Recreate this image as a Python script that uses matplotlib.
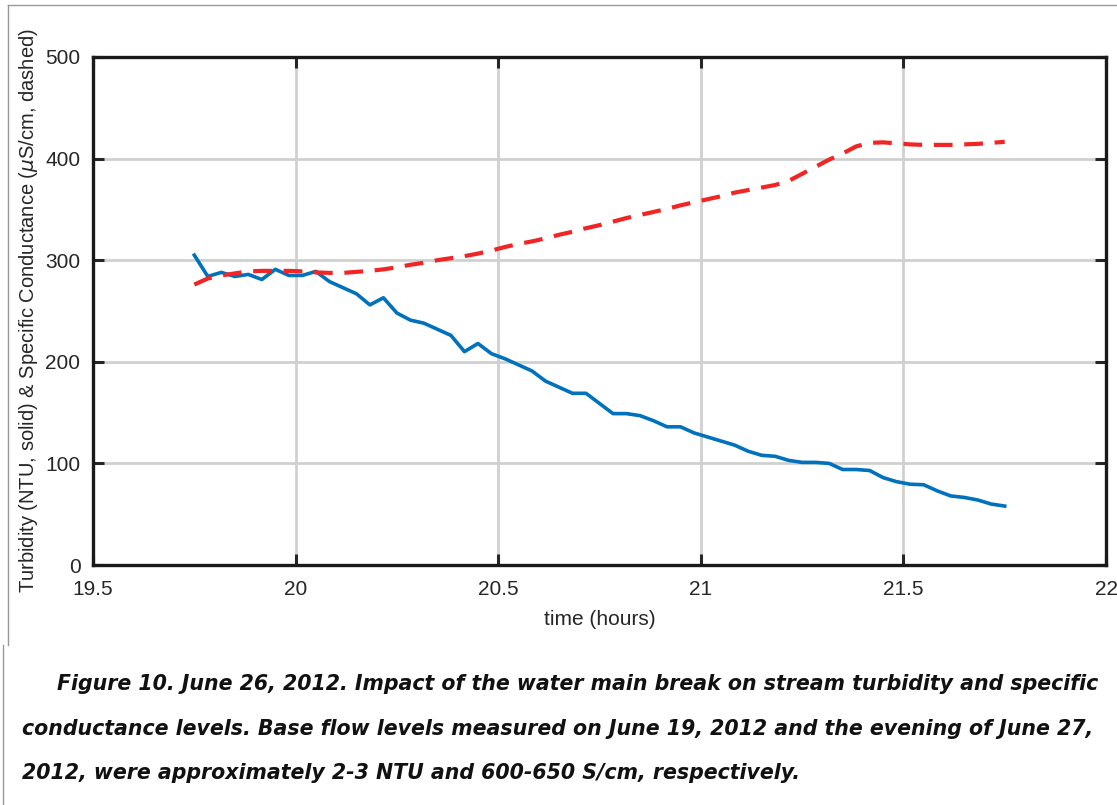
import numpy as np
import matplotlib
matplotlib.use("Agg")
import matplotlib.pyplot as plt
from matplotlib.lines import Line2D

# samples every 2 minutes from 19.75 h to 21.75 h
time_h = 19.75 + np.arange(0, 121, 2) / 60.0

turbidity = [305, 284, 288, 284, 286, 281, 291, 285, 285, 289,
             279, 273, 267, 256, 263, 248, 241, 238, 232, 226,
             210, 218, 208, 203, 197, 191, 181, 175, 169, 169,
             159, 149, 149, 147, 142, 136, 136, 130, 126, 122,
             118, 112, 108, 107, 103, 101, 101, 100, 94, 94,
             93, 86, 82, 79.5, 79, 73, 68, 66.5, 64, 60, 58]

conductance = [276, 282, 285, 287, 289, 289.5, 289.5, 289.5, 289, 288,
               287.5, 287.5, 288.5, 289.5, 291, 293, 295.5, 297.5, 300, 302,
               304, 306.5, 309.5, 313, 316, 318.5, 321.5, 325, 328, 331.5,
               334.5, 338, 341.5, 344.5, 347.5, 350.5, 354, 357, 360, 363,
               366.5, 369, 371.5, 374, 378, 385, 392, 399, 405, 412,
               415.5, 416, 415, 414, 413.5, 413.5, 413.5, 414, 414.5, 415.5, 416.5]

xticks = [19.5, 20, 20.5, 21, 21.5, 22]
xticklabels = ["19.5", "20", "20.5", "21", "21.5", "22"]
yticks = [0, 100, 200, 300, 400, 500]

caption = [
    "Figure 10. June 26, 2012. Impact of the water main break on stream turbidity and specific",
    "conductance levels. Base flow levels measured on June 19, 2012 and the evening of June 27,",
    "2012, were approximately 2-3 NTU and 600-650 S/cm, respectively.",
]

plt.rcParams["font.family"] = ["Liberation Sans", "DejaVu Sans"]

fig = plt.figure(figsize=(11.17, 8.05), dpi=100)
ax = fig.add_axes([93 / 1117, 1 - 565 / 805, (1106 - 93) / 1117, (565 - 57) / 805])

ax.plot(time_h, turbidity, color="#0072BD", linewidth=2.6, zorder=3)
ax.plot(time_h, conductance, color="#F22424", linewidth=3.0, dashes=(4.5, 2.8), zorder=3)

ax.set_xlim(19.5, 22)
ax.set_ylim(0, 500)
ax.set_xticks(xticks)
ax.set_xticklabels(xticklabels)
ax.set_yticks(yticks)
ax.grid(True, color="#d0d0d0", linewidth=2.0)
ax.set_axisbelow(True)
ax.tick_params(direction="in", length=8, width=2.2, labelsize=15,
               top=True, right=True, colors="#262626")
ax.tick_params(axis="x", pad=11)
ax.tick_params(axis="y", pad=9)
for s in ax.spines.values():
    s.set_linewidth(2.4)
    s.set_color("#1a1a1a")

ax.set_xlabel("time (hours)", fontsize=15, color="#262626", labelpad=8)
ax.set_ylabel(r"Turbidity (NTU, solid) & Specific Conductance ($\mu$S/cm, dashed)",
              fontsize=14.5, color="#262626", labelpad=4)

# thin page frame
fig.add_artist(Line2D([8 / 1117, 8 / 1117], [1 - 5 / 805, 1 - 645 / 805],
                      transform=fig.transFigure, color="#999999", linewidth=1))
fig.add_artist(Line2D([8 / 1117, 1], [1 - 5 / 805, 1 - 5 / 805],
                      transform=fig.transFigure, color="#999999", linewidth=1))
fig.add_artist(Line2D([3 / 1117, 3 / 1117], [1 - 645 / 805, 0],
                      transform=fig.transFigure, color="#999999", linewidth=1))

cap_x = [57, 22, 22]
cap_y = [684, 729, 773]
for txt, cx, cy in zip(caption, cap_x, cap_y):
    fig.text(cx / 1117, 1 - cy / 805, txt, fontsize=14.8, fontweight="bold",
             fontstyle="italic", family=["DejaVu Sans"], color="#111111",
             va="center", ha="left")

fig.savefig("out.png", dpi=100)
